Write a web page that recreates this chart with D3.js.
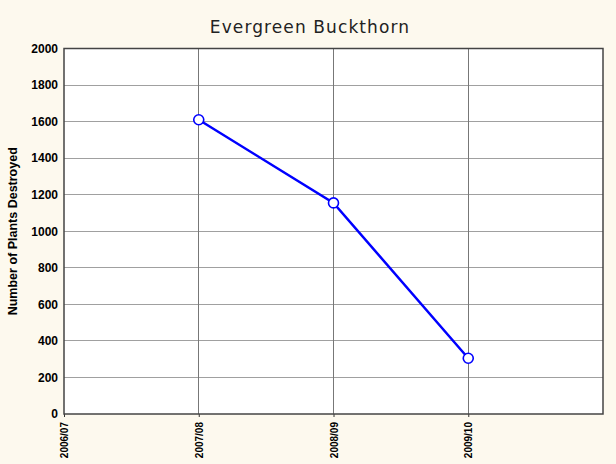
<!DOCTYPE html>
<html><head><meta charset="utf-8">
<script src="https://cdn.jsdelivr.net/npm/d3@7"></script>
<style>html,body{margin:0;padding:0;background:#fdf9ee;}svg{display:block;}</style>
</head><body>
<script>
const categories = ["2006/07", "2007/08", "2008/09", "2009/10"];
const values = [null, 1610, 1155, 305];
const yTicks = [0, 200, 400, 600, 800, 1000, 1200, 1400, 1600, 1800, 2000];
const title = "Evergreen Buckthorn";
const yLabel = "Number of Plants Destroyed";

const W = 616, H = 464;
const m = {left: 64, right: 13, top: 48.5, bottom: 50};
const svg = d3.select("body").append("svg").attr("width", W).attr("height", H);
svg.append("rect").attr("width", W).attr("height", H).attr("fill", "#fdf9ee");

const x = d3.scaleLinear().domain([0, categories.length]).range([m.left, W - m.right]);
const y = d3.scaleLinear().domain([0, 2000]).range([H - m.bottom, m.top]);

svg.append("rect").attr("x", x(0)).attr("y", y(2000))
  .attr("width", x(4) - x(0)).attr("height", y(0) - y(2000)).attr("fill", "#fff");

// grid
svg.append("g").selectAll("line").data(yTicks.slice(1, -1)).join("line")
  .attr("x1", x(0)).attr("x2", x(4)).attr("y1", d => y(d)).attr("y2", d => y(d))
  .attr("stroke", "#a0a0a0").attr("stroke-width", 1).attr("shape-rendering", "crispEdges");
svg.append("g").selectAll("line").data(d3.range(1, categories.length)).join("line")
  .attr("x1", d => x(d)).attr("x2", d => x(d)).attr("y1", y(0)).attr("y2", y(2000))
  .attr("stroke", "#777").attr("stroke-width", 1).attr("shape-rendering", "crispEdges");

// axes
const yAxis = d3.axisLeft(y).tickValues(yTicks).tickSize(0).tickPadding(6).tickFormat(d3.format("d"));
const gy = svg.append("g").attr("transform", `translate(${x(0)},0)`).call(yAxis);
gy.select(".domain").remove();
gy.selectAll("text").attr("font-family", "Liberation Sans, Arial, sans-serif")
  .attr("font-weight", "bold").attr("font-size", 12).attr("fill", "#000");

const xAxis = d3.axisBottom(x).tickValues(d3.range(categories.length)).tickSize(3)
  .tickFormat(i => categories[i]);
const gx = svg.append("g").attr("transform", `translate(0,${y(0)})`).call(xAxis);
gx.select(".domain").remove();
gx.selectAll("line").attr("stroke", "#333");
gx.selectAll("text").attr("font-family", "Liberation Sans, Arial, sans-serif")
  .attr("font-weight", "bold").attr("font-size", 10).attr("fill", "#000")
  .attr("transform", "rotate(-90)").attr("text-anchor", "end")
  .attr("x", -8).attr("y", 0).attr("dy", "0.35em");

// frame
svg.append("rect").attr("x", x(0)).attr("y", y(2000))
  .attr("width", x(4) - x(0)).attr("height", y(0) - y(2000))
  .attr("fill", "none").attr("stroke", "#444").attr("stroke-width", 1.5);

// line
const pts = values.map((v, i) => ({i, v})).filter(d => d.v != null);
svg.append("path").datum(pts)
  .attr("d", d3.line().x(d => x(d.i)).y(d => y(d.v)))
  .attr("fill", "none").attr("stroke", "#0000ff").attr("stroke-width", 2.5);
svg.append("g").selectAll("circle").data(pts).join("circle")
  .attr("cx", d => x(d.i)).attr("cy", d => y(d.v)).attr("r", 5)
  .attr("fill", "#fff").attr("stroke", "#0000ff").attr("stroke-width", 1.6);

// title
svg.append("text").attr("x", 310).attr("y", 33).attr("text-anchor", "middle")
  .attr("font-family", "DejaVu Sans, Verdana, sans-serif").attr("font-size", 17)
  .attr("letter-spacing", 1.1)
  .attr("fill", "#222").text(title);

// y label
svg.append("text").attr("transform", `translate(17,${(y(0) + y(2000)) / 2}) rotate(-90)`)
  .attr("text-anchor", "middle").attr("font-family", "Liberation Sans, Arial, sans-serif")
  .attr("font-weight", "bold").attr("font-size", 12.5).attr("fill", "#000").text(yLabel);
</script>
</body></html>
